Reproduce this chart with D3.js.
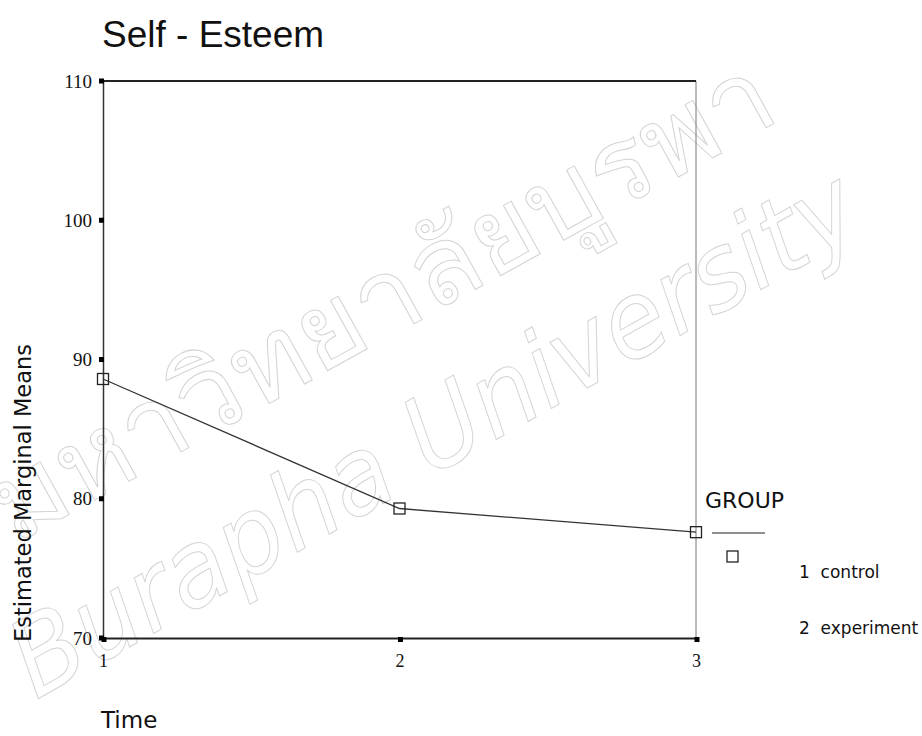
<!DOCTYPE html>
<html>
<head>
<meta charset="utf-8">
<script src="https://cdn.jsdelivr.net/npm/d3@7"></script>
<style>
  body { margin: 0; background: #fff; }
  svg { display: block; }
</style>
</head>
<body>
<svg id="chart" width="922" height="736"></svg>
<script>
// data
var times = [ 1, 2, 3 ];
var controlMeans = [ 88.6, 79.3, 77.6 ];
var yTicks = [ 70, 80, 90, 100, 110 ];
var legendItems = [ '1  control', '2  experiment' ];

var svg = d3.select( '#chart' ),
    box = { left: 103, right: 696, top: 81, bottom: 638 };

var x = d3.scaleLinear().domain( [ 1, 3 ] ).range( [ box.left, box.right ] ),
    y = d3.scaleLinear().domain( [ 70, 110 ] ).range( [ box.bottom, box.top ] );

// watermark, faint outlined text behind everything
var wm = svg.append( 'g' ).attr( 'class', 'watermark' )
    .attr( 'fill', 'none' ).attr( 'stroke', '#d4d4d4' ).attr( 'stroke-width', 1 );
wm.append( 'text' )
    .attr( 'transform', 'translate(14,545) rotate(-29)' )
    .attr( 'font-family', 'Noto Sans, DejaVu Sans, sans-serif' )
    .attr( 'font-size', 108 )
    .attr( 'textLength', 880 )
    .attr( 'lengthAdjust', 'spacingAndGlyphs' )
    .text( 'มหาวิทยาลัยบูรพา' );
wm.append( 'text' )
    .attr( 'transform', 'translate(36,700) rotate(-29.5)' )
    .attr( 'font-family', 'DejaVu Sans, sans-serif' )
    .attr( 'font-style', 'italic' )
    .attr( 'font-size', 106 )
    .attr( 'textLength', 955 )
    .attr( 'lengthAdjust', 'spacingAndGlyphs' )
    .text( 'Burapha University' );

// title
svg.append( 'text' )
    .attr( 'x', 102 ).attr( 'y', 47 )
    .attr( 'font-family', 'Liberation Sans, Arial, sans-serif' )
    .attr( 'font-size', 37 )
    .attr( 'fill', '#111' )
    .text( 'Self - Esteem' );

// frame: right edge thin and grey, top dark
svg.append( 'line' )
    .attr( 'x1', box.right ).attr( 'x2', box.right )
    .attr( 'y1', box.top ).attr( 'y2', box.bottom )
    .attr( 'stroke', '#777' ).attr( 'stroke-width', 1 );
svg.append( 'line' )
    .attr( 'x1', box.left ).attr( 'x2', box.right )
    .attr( 'y1', box.top ).attr( 'y2', box.top )
    .attr( 'stroke', '#222' ).attr( 'stroke-width', 2 );

// y axis
var yAxis = svg.append( 'g' )
    .attr( 'transform', 'translate(' + box.left + ',0)' )
    .call( d3.axisLeft( y ).tickValues( yTicks ).tickSize( 0 ).tickPadding( 11 ) );
yAxis.select( '.domain' ).attr( 'stroke', '#333' ).attr( 'stroke-width', 1.5 );
yAxis.selectAll( 'text' )
    .attr( 'font-family', 'Liberation Serif, serif' )
    .attr( 'font-size', 19 )
    .attr( 'fill', '#111' );
yAxis.selectAll( '.tick' ).append( 'rect' )
    .attr( 'x', -4 ).attr( 'y', -3 ).attr( 'width', 5 ).attr( 'height', 5 )
    .attr( 'fill', '#000' );

// x axis
var xAxis = svg.append( 'g' )
    .attr( 'transform', 'translate(0,' + box.bottom + ')' )
    .call( d3.axisBottom( x ).tickValues( times ).tickFormat( d3.format( 'd' ) ).tickSize( 0 ).tickPadding( 16 ) );
xAxis.select( '.domain' ).attr( 'stroke', '#222' ).attr( 'stroke-width', 2 );
xAxis.selectAll( 'text' )
    .attr( 'font-family', 'Liberation Serif, serif' )
    .attr( 'font-size', 18 )
    .attr( 'fill', '#111' );
xAxis.selectAll( '.tick' ).append( 'rect' )
    .attr( 'x', -2 ).attr( 'y', -1 ).attr( 'width', 5 ).attr( 'height', 5 )
    .attr( 'fill', '#000' );

// axis titles
svg.append( 'text' )
    .attr( 'transform', 'translate(31,493) rotate(-90)' )
    .attr( 'text-anchor', 'middle' )
    .attr( 'font-family', 'DejaVu Sans, sans-serif' )
    .attr( 'font-size', 22.5 )
    .attr( 'fill', '#111' )
    .text( 'Estimated Marginal Means' );
svg.append( 'text' )
    .attr( 'x', 101 ).attr( 'y', 728 )
    .attr( 'font-family', 'DejaVu Sans, sans-serif' )
    .attr( 'font-size', 23 )
    .attr( 'fill', '#111' )
    .text( 'Time' );

// series line + markers
var pts = times.map( function( t, i ){ return [ t, controlMeans[ i ] ]; } );
svg.append( 'path' )
    .datum( pts )
    .attr( 'fill', 'none' )
    .attr( 'stroke', '#333' )
    .attr( 'stroke-width', 1.3 )
    .attr( 'd', d3.line().x( function( d ){ return x( d[0] ); } ).y( function( d ){ return y( d[1] ); } ) );
svg.selectAll( 'rect.marker' )
    .data( pts ).enter().append( 'rect' )
    .attr( 'class', 'marker' )
    .attr( 'x', function( d ){ return x( d[0] ) - 5.5; } )
    .attr( 'y', function( d ){ return y( d[1] ) - 5.5; } )
    .attr( 'width', 11 ).attr( 'height', 11 )
    .attr( 'fill', 'none' )
    .attr( 'stroke', '#222' )
    .attr( 'stroke-width', 1.3 );

// legend
var lg = svg.append( 'g' ).attr( 'class', 'legend' );
lg.append( 'text' )
    .attr( 'x', 705 ).attr( 'y', 508 )
    .attr( 'font-family', 'DejaVu Sans, sans-serif' )
    .attr( 'font-size', 22 )
    .attr( 'fill', '#111' )
    .text( 'GROUP' );
lg.append( 'line' )
    .attr( 'x1', 712 ).attr( 'x2', 765 ).attr( 'y1', 533 ).attr( 'y2', 533 )
    .attr( 'stroke', '#222' ).attr( 'stroke-width', 1.2 );
lg.append( 'rect' )
    .attr( 'x', 727 ).attr( 'y', 551 ).attr( 'width', 11 ).attr( 'height', 11 )
    .attr( 'fill', 'none' ).attr( 'stroke', '#222' ).attr( 'stroke-width', 1.3 );
lg.selectAll( 'text.item' )
    .data( legendItems ).enter().append( 'text' )
    .attr( 'class', 'item' )
    .attr( 'x', 799 )
    .attr( 'y', function( d, i ){ return 578 + i * 56; } )
    .attr( 'font-family', 'DejaVu Sans, sans-serif' )
    .attr( 'font-size', 17 )
    .attr( 'fill', '#111' )
    .attr( 'xml:space', 'preserve' )
    .style( 'white-space', 'pre' )
    .text( function( d ){ return d; } );
</script>
</body>
</html>
